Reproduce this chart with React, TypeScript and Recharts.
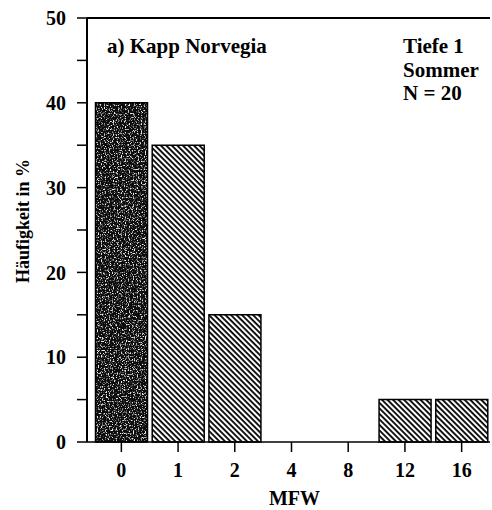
import { BarChart, Bar, XAxis, YAxis, Cell, ReferenceLine } from "recharts";

// MFW classes and share of samples (%)
const classes = ["0", "1", "2", "4", "8", "12", "16"];
const shares = [40, 35, 15, 0, 0, 5, 5];
const yTicks = [0, 5, 10, 15, 20, 25, 30, 35, 40, 45, 50];

const data = classes.map((mfw, i) => ({ mfw, share: shares[i] }));

const font = "'Liberation Serif', 'Times New Roman', serif";

export default function App() {
  return (
    <div style={{ position: "absolute", left: 0, top: 0, background: "#fff" }}>
      <BarChart
        width={492}
        height={510}
        data={data}
        margin={{ top: 18, right: 2, left: 0, bottom: 8 }}
        barCategoryGap={2.5}
        style={{ fontFamily: font }}
      >
        <defs>
          <pattern
            id="hatch"
            patternUnits="userSpaceOnUse"
            width="3.9"
            height="3.9"
            patternTransform="rotate(45)"
          >
            <rect width="3.9" height="3.9" fill="#fff" />
            <rect width="3.9" height="1.8" fill="#000" />
          </pattern>
          <filter id="speckle" x="0" y="0" width="1" height="1">
            <feTurbulence type="fractalNoise" baseFrequency="0.75" numOctaves="2" seed="4" />
            <feColorMatrix
              type="matrix"
              values="0 0 0 0 0.85  0 0 0 0 0.85  0 0 0 0 0.85  5 0 0 0 -2.6"
            />
            <feComposite in2="SourceAlpha" operator="in" />
          </filter>
          <pattern id="stipple" patternUnits="userSpaceOnUse" width="492" height="510">
            <rect width="492" height="510" fill="#0c0c0c" />
            <rect width="492" height="510" fill="#fff" filter="url(#speckle)" />
          </pattern>
        </defs>
        <XAxis
          dataKey="mfw"
          padding={{ left: 6, right: 0 }}
          height={60}
          tickSize={10}
          tickMargin={11}
          axisLine={{ stroke: "#000", strokeWidth: 1.5 }}
          tickLine={{ stroke: "#000", strokeWidth: 1.5 }}
          tick={{ fill: "#000", fontSize: 20, fontWeight: "bold", fontFamily: font }}
          label={{
            value: "MFW",
            position: "insideBottom",
            offset: -3,
            dx: 6,
            fill: "#000",
            fontSize: 20,
            fontWeight: "bold",
            fontFamily: font,
          }}
        />
        <YAxis
          width={87}
          domain={[0, 50]}
          ticks={yTicks}
          interval={0}
          tickFormatter={(v: number) => (v % 10 === 0 ? String(v) : "")}
          tickSize={10}
          tickMargin={11}
          axisLine={{ stroke: "#000", strokeWidth: 2 }}
          tickLine={{ stroke: "#000", strokeWidth: 1.5 }}
          tick={{ fill: "#000", fontSize: 20, fontWeight: "bold", fontFamily: font }}
        />
        <ReferenceLine y={50} stroke="#000" strokeWidth={2} />
        <Bar dataKey="share" stroke="#000" strokeWidth={1.5} isAnimationActive={false}>
          {data.map((d, i) => (
            <Cell key={d.mfw} fill={i === 0 ? "url(#stipple)" : "url(#hatch)"} />
          ))}
        </Bar>
        <text
          x={29}
          y={221}
          transform="rotate(-90, 29, 221)"
          textAnchor="middle"
          fontSize={18}
          fontWeight="bold"
          fontFamily={font}
          fill="#000"
        >
          Häufigkeit in %
        </text>
        <text x={107} y={53} fontSize={21} fontWeight="bold" fontFamily={font} fill="#000">
          a) Kapp Norvegia
        </text>
        <text fontSize={21} fontWeight="bold" fontFamily={font} fill="#000">
          <tspan x={403} y={53}>Tiefe 1</tspan>
          <tspan x={403} y={77}>Sommer</tspan>
          <tspan x={403} y={100}>N = 20</tspan>
        </text>
      </BarChart>
    </div>
  );
}
